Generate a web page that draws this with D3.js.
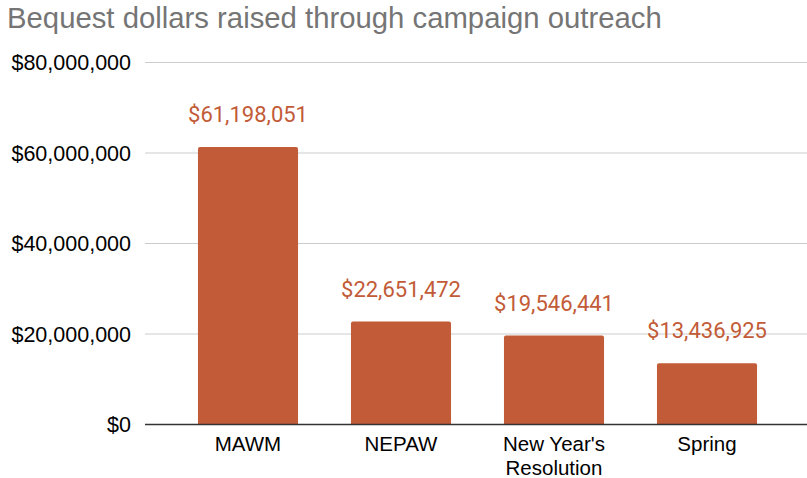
<!DOCTYPE html>
<html><head><meta charset="utf-8">
<script src="https://cdn.jsdelivr.net/npm/d3@7"></script>
<style>body{margin:0;background:#fff}svg{display:block}</style>
</head><body>
<svg id="c" width="807" height="478"></svg>
<script>
const categories = ["MAWM", "NEPAW", "New Year's\nResolution", "Spring"];
const values = [61198051, 22651472, 19546441, 13436925];
const yTicks = [0, 20000000, 40000000, 60000000, 80000000];
const title = "Bequest dollars raised through campaign outreach";

const svg = d3.select("#c");
const color = "#c25b37";
const y = d3.scaleLinear().domain([0, 80000000]).range([424, 62]);
const x = d3.scaleBand().domain(categories).range([171.5, 783.5]).paddingInner(0.346).paddingOuter(0.173);
const fmt = d3.format("$,.0f");

svg.append("text").attr("x", 7).attr("y", 28).attr("fill", "#757575")
  .style("font", "29.3px 'Liberation Sans', Arial, sans-serif").text(title);

const yAxis = svg.append("g").attr("transform", "translate(0,0)")
  .call(d3.axisLeft(y).tickValues(yTicks).tickSize(0).tickFormat(fmt));
yAxis.select(".domain").remove();
yAxis.selectAll("text").attr("x", 131).attr("dy", "0.35em").attr("fill", "#000")
  .style("font", "21.5px 'Liberation Sans', Arial, sans-serif");

svg.append("g").selectAll("line").data(yTicks.filter(d => d > 0)).join("line")
  .attr("x1", 145).attr("x2", 807).attr("y1", d => y(d) + 0.5).attr("y2", d => y(d) + 0.5)
  .attr("stroke", "#cccccc").attr("stroke-width", 1);

svg.append("g").selectAll("path").data(values).join("path")
  .attr("fill", color)
  .attr("d", (d, i) => {
    const x0 = x(categories[i]), w = x.bandwidth(), t = y(d), b = y(0), r = 2;
    return `M${x0},${b}V${t + r}Q${x0},${t} ${x0 + r},${t}H${x0 + w - r}Q${x0 + w},${t} ${x0 + w},${t + r}V${b}Z`;
  });

svg.append("line").attr("x1", 145).attr("x2", 807).attr("y1", y(0) + 0.5).attr("y2", y(0) + 0.5)
  .attr("stroke", "#333").attr("stroke-width", 1.5);

svg.append("g").selectAll("text").data(values).join("text")
  .attr("x", (d, i) => x(categories[i]) + x.bandwidth() / 2)
  .attr("y", d => y(d) - 25)
  .attr("text-anchor", "middle").attr("fill", color)
  .style("font", "22px Roboto, sans-serif").text(d => fmt(d));

const xl = svg.append("g").selectAll("text").data(categories).join("text")
  .attr("x", d => x(d) + x.bandwidth() / 2).attr("y", 451)
  .attr("text-anchor", "middle").attr("fill", "#000")
  .style("font", "20.5px 'Liberation Sans', Arial, sans-serif");
xl.selectAll("tspan").data(d => d.split("\n")).join("tspan")
  .attr("x", function() { return this.parentNode.getAttribute("x"); })
  .attr("dy", (d, i) => i ? 23.5 : 0).text(d => d);
</script>
</body></html>
